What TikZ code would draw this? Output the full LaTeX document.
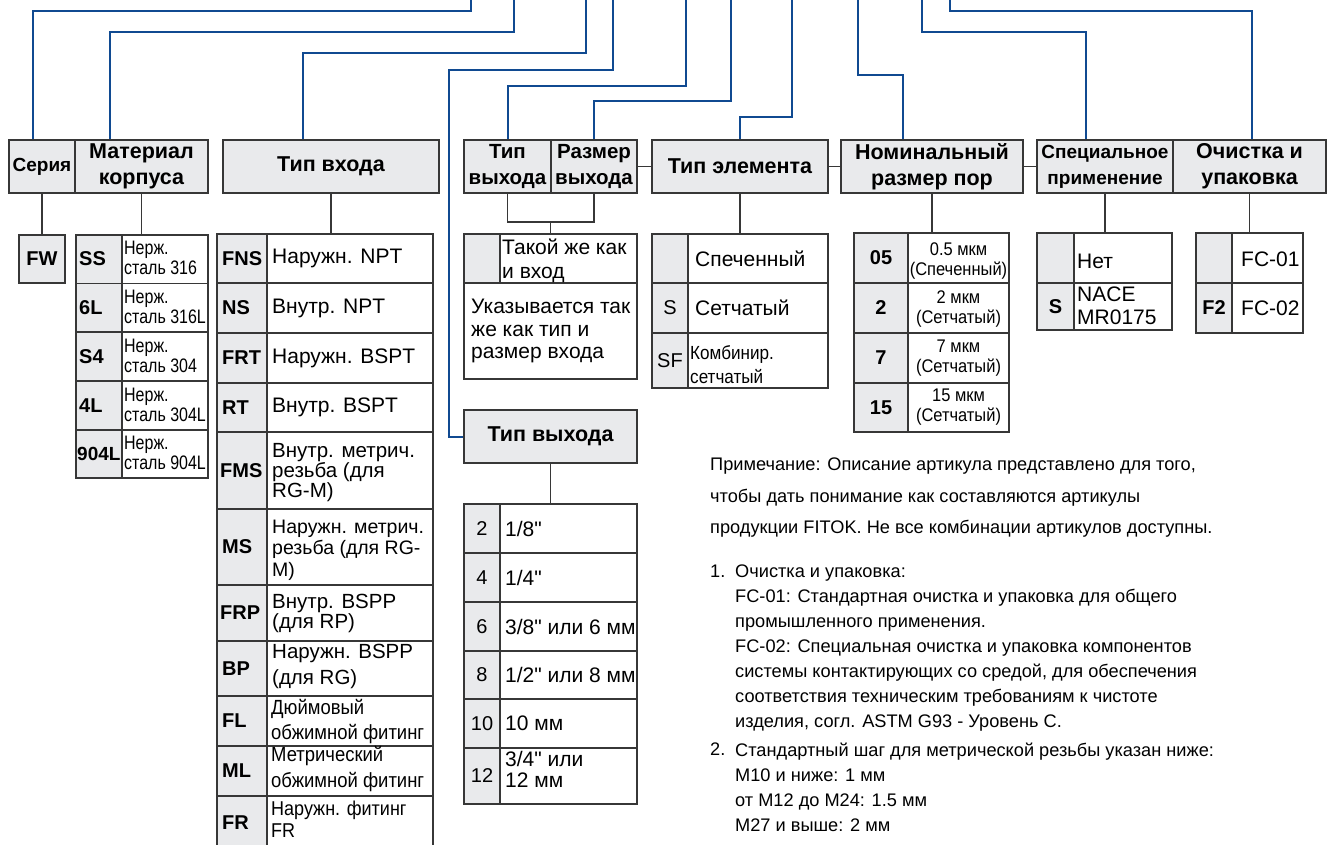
\documentclass[tikz,border=0pt]{standalone}
\usepackage{fontspec}
\setmainfont{Liberation Sans}
\newfontfamily\narrowfont[FakeStretch=0.9]{Liberation Sans}
\newfontfamily\slimfont[FakeStretch=0.82]{Liberation Sans}
\usetikzlibrary{calc}
\definecolor{linkblue}{RGB}{16,74,145}
\definecolor{cellgray}{RGB}{233,234,236}
\definecolor{gridgray}{RGB}{55,55,55}
\tikzset{
  head/.style={draw=gridgray, line width=1.3pt, fill=cellgray, align=center, minimum height=53pt, inner sep=0pt, font=\bfseries\fontsize{21.5}{26}\selectfont},
  blueline/.style={draw=linkblue, line width=2pt},
  conn/.style={draw=gridgray, line width=1.2pt},
  grid/.style={draw=gridgray, line width=1.2pt},
  code/.style={font=\bfseries\fontsize{20}{22}\selectfont, inner sep=0pt},
  rcode/.style={font=\fontsize{20}{22}\selectfont, inner sep=0pt},
  txt/.style={font=\fontsize{21}{22}\selectfont, align=left, anchor=west, inner sep=0pt},
  ntxt/.style={font=\narrowfont\fontsize{18.3}{20}\selectfont, align=left, anchor=west, inner sep=0pt},
  stxt/.style={font=\slimfont\fontsize{19.5}{20}\selectfont, align=left, anchor=west, inner sep=0pt},
  note/.style={font=\fontsize{18.2}{25}\selectfont, align=left, anchor=north west, inner sep=0pt}
}
\begin{document}
\begin{tikzpicture}[x=1pt,y=-1pt]
\useasboundingbox (0,0) rectangle (1332,844);
\clip (0,0) rectangle (1332,844);

\node[head, minimum width=66pt, font=\bfseries\fontsize{19}{26}\selectfont] (hSer) at (42,166.5) {Серия};
\node[head, minimum width=133pt] (hMat) at (141.5,166.5) {Материал\\корпуса};
\node[head, minimum width=216pt] (hIn) at (331,166.5) {Тип входа};
\node[head, minimum width=87pt, font=\bfseries\fontsize{20.5}{26}\selectfont] (hTo) at (507.5,166.5) {Тип\\выхода};
\node[head, minimum width=86pt, font=\bfseries\fontsize{20.5}{26}\selectfont] (hSo) at (594,166.5) {Размер\\выхода};
\node[head, minimum width=176pt] (hEl) at (740,166.5) {Тип элемента};
\node[head, minimum width=182pt] (hPor) at (932,166.5) {Номинальный\\размер пор};
\node[head, minimum width=136pt, font=\bfseries\fontsize{19}{26}\selectfont] (hSp) at (1105,166.5) {Специальное\\применение};
\node[head, minimum width=153pt] (hCl) at (1249.5,166.5) {Очистка и\\упаковка};
\node[head, minimum width=173pt] (hOut) at (550.5,436.5) {Тип выхода};

\coordinate (t1) at (471,-2);
\coordinate (t2) at (514,-2);
\coordinate (t3) at (586,-2);
\coordinate (t4) at (613,-2);
\coordinate (t5) at (686,-2);
\coordinate (t6) at (731,-2);
\coordinate (t7) at (792,-2);
\coordinate (t8) at (858,-2);
\coordinate (t9) at (922,-2);
\coordinate (t10) at (950,-2);

\draw[blueline] ([xshift=-9pt]hSer.north) -- ++(0,-128) -| (t1);
\draw[blueline] ([xshift=-31.5pt]hMat.north) -- ++(0,-107) -| (t2);
\draw[blueline] ([xshift=-28pt]hIn.north) -- ++(0,-86) -| (t3);
\draw[blueline] (hOut.west) -- ++(-14,0) -- ++(0,-366.5) -| (t4);
\draw[blueline] (hTo.north) -- ++(0,-53) -| (t5);
\draw[blueline] (hSo.north) -- ++(0,-38) -| (t6);
\draw[blueline] (hEl.north) -- ++(0,-22) -| (t7);
\draw[blueline] ([xshift=-29pt]hPor.north) -- ++(0,-64) -| (t8);
\draw[blueline] ([xshift=-19pt]hSp.north) -- ++(0,-107) -| (t9);
\draw[blueline] ([xshift=2.5pt]hCl.north) -- ++(0,-128) -| (t10);

\draw[conn] (hSo.east) -- (hEl.west);
\draw[conn] (hEl.east) -- (hPor.west);
\draw[conn] (hPor.east) -- (hSp.west);

\coordinate (matTop) at (141.5,235);
\coordinate (inTop) at (331,234);
\coordinate (brk) at (550.5,222);
\coordinate (sameTop) at (550.5,234);
\coordinate (elTop) at (740,234);
\coordinate (porTop) at (932,233);
\coordinate (spTop) at (1105,233);
\coordinate (clTop) at (1249.5,233);
\coordinate (outTop) at (550.5,504);

\node[code, draw=gridgray, line width=1.2pt, fill=cellgray, minimum width=46pt, minimum height=48pt] (fw) at (42,259) {FW};
\draw[conn] (hSer.south) -- (fw.north);
\draw[conn] (hMat.south) -- (matTop);
\draw[conn] (hIn.south) -- (inTop);
\draw[conn] (hTo.south) |- (brk) -| (hSo.south);
\draw[conn] (brk) -- (sameTop);
\draw[conn] (hEl.south) -- (elTop);
\draw[conn] (hPor.south) -- (porTop);
\draw[conn] (hSp.south) -- (spTop);
\draw[conn] (hCl.south) -- (clTop);
\draw[conn] (hOut.south) -- (outTop);

\fill[cellgray] (76,235) rectangle (122,478);
\draw[grid] (76,235) rectangle (208,478);
\draw[grid] (122,235) -- (122,478);
\draw[grid] (76,283.5) -- (208,283.5);
\draw[grid] (76,332) -- (208,332);
\draw[grid] (76,381) -- (208,381);
\draw[grid] (76,430) -- (208,430);
\node[code, anchor=west] (mSS) at (79,259) {SS};
\node[code, anchor=west] (m6L) at (79,308) {6L};
\node[code, anchor=west] (mS4) at (79,356.5) {S4};
\node[code, anchor=west] (m4L) at (79,405.5) {4L};
\node[code, anchor=west, font=\bfseries\fontsize{19}{22}\selectfont] (m904L) at (77,454) {904L};
\node[stxt] (mSSd) at (124,258) {Нерж.\\сталь 316};
\node[stxt] (m6Ld) at (124,307) {Нерж.\\сталь 316L};
\node[stxt] (mS4d) at (124,355.5) {Нерж.\\сталь 304};
\node[stxt] (m4Ld) at (124,404.5) {Нерж.\\сталь 304L};
\node[stxt] (m904Ld) at (124,453) {Нерж.\\сталь 904L};

\fill[cellgray] (217,234) rectangle (267,850);
\draw[grid] (217,234) rectangle (433,850);
\draw[grid] (267,234) -- (267,850);
\draw[grid] (217,283) -- (433,283);
\draw[grid] (217,333) -- (433,333);
\draw[grid] (217,383) -- (433,383);
\draw[grid] (217,432) -- (433,432);
\draw[grid] (217,509) -- (433,509);
\draw[grid] (217,585) -- (433,585);
\draw[grid] (217,641) -- (433,641);
\draw[grid] (217,696) -- (433,696);
\draw[grid] (217,746) -- (433,746);
\draw[grid] (217,796) -- (433,796);
\node[code, anchor=west] (iFNS) at (222,258.5) {FNS};
\node[code, anchor=west] (iNS) at (222,308) {NS};
\node[code, anchor=west] (iFRT) at (222,358) {FRT};
\node[code, anchor=west] (iRT) at (222,407.5) {RT};
\node[code, anchor=west] (iFMS) at (220,471) {FMS};
\node[code, anchor=west] (iMS) at (222,547) {MS};
\node[code, anchor=west] (iFRP) at (220,613) {FRP};
\node[code, anchor=west] (iBP) at (222,668.5) {BP};
\node[code, anchor=west] (iFL) at (222,721) {FL};
\node[code, anchor=west] (iML) at (222,771) {ML};
\node[code, anchor=west] (iFR) at (222,823) {FR};
\node[txt] (iFNSd) at (272,258.5) {Наружн. NPT};
\node[txt] (iNSd) at (272,308) {Внутр. NPT};
\node[txt] (iFRTd) at (272,358) {Наружн. BSPT};
\node[txt] (iRTd) at (272,407.5) {Внутр. BSPT};
\node[txt, font=\fontsize{20.5}{20}\selectfont] (iFMSd) at (272,473) {Внутр. метрич.\\резьба (для\\RG-M)};
\node[txt, font=\fontsize{19.5}{21.5}\selectfont] (iMSd) at (272,550) {Наружн. метрич.\\резьба (для RG-\\M)};
\node[txt, font=\fontsize{20.5}{20}\selectfont] (iFRPd) at (272,613) {Внутр. BSPP\\(для RP)};
\node[txt, font=\fontsize{20.5}{26}\selectfont] (iBPd) at (272,666) {Наружн. BSPP\\(для RG)};
\node[ntxt, font=\narrowfont\fontsize{20.5}{25}\selectfont] (iFLd) at (271,722) {Дюймовый\\обжимной фитинг};
\node[ntxt, font=\narrowfont\fontsize{20.5}{26}\selectfont] (iMLd) at (271,769) {Метрический\\обжимной фитинг};
\node[ntxt, font=\narrowfont\fontsize{20}{22}\selectfont] (iFRd) at (271,819) {Наружн. фитинг\\FR};

\fill[cellgray] (464,234) rectangle (500,283);
\draw[grid] (464,234) rectangle (637,379);
\draw[grid] (464,283) -- (637,283);
\draw[grid] (500,234) -- (500,283);
\node[txt, font=\fontsize{21}{24}\selectfont] (sameA) at (502,261) {Такой же как\\и вход};
\node[txt, font=\fontsize{21}{22.5}\selectfont] (sameB) at (471,331) {Указывается так\\же как тип и\\размер входа};

\fill[cellgray] (652,234) rectangle (688,388);
\draw[grid] (652,234) rectangle (828,388);
\draw[grid] (688,234) -- (688,388);
\draw[grid] (652,283) -- (828,283);
\draw[grid] (652,333) -- (828,333);
\node[txt] (eSd) at (695,258.5) {Спеченный};
\node[rcode] (eS) at (670,308) {S};
\node[txt] (eSSd) at (695,308) {Сетчатый};
\node[rcode] (eSF) at (670,361) {SF};
\node[ntxt, font=\narrowfont\fontsize{19}{24}\selectfont] (eSFd) at (690,365) {Комбинир.\\сетчатый};

\fill[cellgray] (854,233) rectangle (908,432);
\draw[grid] (854,233) rectangle (1009,432);
\draw[grid] (908,233) -- (908,432);
\draw[grid] (854,283) -- (1009,283);
\draw[grid] (854,333) -- (1009,333);
\draw[grid] (854,383) -- (1009,383);
\node[code] (p05) at (881,258) {05};
\node[code] (p2) at (881,308) {2};
\node[code] (p7) at (881,358) {7};
\node[code] (p15) at (881,407.5) {15};
\node[ntxt, anchor=center, align=center] (p05d) at (958.5,261) {0.5 мкм\\(Спеченный)};
\node[ntxt, anchor=center, align=center] (p2d) at (958.5,309) {2 мкм\\(Сетчатый)};
\node[ntxt, anchor=center, align=center] (p7d) at (958.5,358) {7 мкм\\(Сетчатый)};
\node[ntxt, anchor=center, align=center] (p15d) at (958.5,407) {15 мкм\\(Сетчатый)};

\fill[cellgray] (1037,233) rectangle (1074,330);
\draw[grid] (1037,233) rectangle (1172,330);
\draw[grid] (1074,233) -- (1074,330);
\draw[grid] (1037,283) -- (1172,283);
\node[txt] (sNo) at (1077,261) {Нет};
\node[code] (sS) at (1055.5,307) {S};
\node[txt, font=\fontsize{21}{23}\selectfont] (sSd) at (1077,306) {NACE\\MR0175};

\fill[cellgray] (1196,233) rectangle (1232,333);
\draw[grid] (1196,233) rectangle (1303,333);
\draw[grid] (1232,233) -- (1232,333);
\draw[grid] (1196,283) -- (1303,283);
\node[txt] (c01) at (1241,259) {FC-01};
\node[code] (cF2) at (1214,308) {F2};
\node[txt] (c02) at (1241,308) {FC-02};

\fill[cellgray] (464,504) rectangle (500,804);
\draw[grid] (464,504) rectangle (637,804);
\draw[grid] (500,504) -- (500,804);
\draw[grid] (464,553) -- (637,553);
\draw[grid] (464,602) -- (637,602);
\draw[grid] (464,651) -- (637,651);
\draw[grid] (464,699) -- (637,699);
\draw[grid] (464,748) -- (637,748);
\node[rcode] (o2) at (482,528.5) {2};
\node[rcode] (o4) at (482,577.5) {4};
\node[rcode] (o6) at (482,626.5) {6};
\node[rcode] (o8) at (482,675) {8};
\node[rcode] (o10) at (482,723.5) {10};
\node[rcode] (o12) at (482,776) {12};
\node[txt] (o2d) at (505,528.5) {1/8\textquotedbl};
\node[txt] (o4d) at (505,577.5) {1/4\textquotedbl};
\node[txt] (o6d) at (505,626.5) {3/8\textquotedbl{} или 6 мм};
\node[txt] (o8d) at (505,675) {1/2\textquotedbl{} или 8 мм};
\node[txt] (o10d) at (505,723.5) {10 мм};
\node[txt, font=\fontsize{21}{21}\selectfont] (o12d) at (505,769.5) {3/4\textquotedbl{} или\\12 мм};

\node[note, font=\fontsize{18.2}{31.5}\selectfont] (remark) at (710,458) {Примечание: Описание артикула представлено для того,\\чтобы дать понимание как составляются артикулы\\продукции FITOK. Не все комбинации артикулов доступны.};
\node[note] (n1) at (710,565) {1.};
\node[note] (n1t) at (735,565) {Очистка и упаковка:\\FC-01: Стандартная очистка и упаковка для общего\\промышленного применения.\\FC-02: Специальная очистка и упаковка компонентов\\системы контактирующих со средой, для обеспечения\\соответствия техническим требованиям к чистоте\\изделия, согл. ASTM G93 - Уровень С.};
\node[note] (n2) at (710,743) {2.};
\node[note] (n2t) at (735,743) {Стандартный шаг для метрической резьбы указан ниже:\\M10 и ниже: 1 мм\\от M12 до M24: 1.5 мм\\M27 и выше: 2 мм};
\end{tikzpicture}
\end{document}
